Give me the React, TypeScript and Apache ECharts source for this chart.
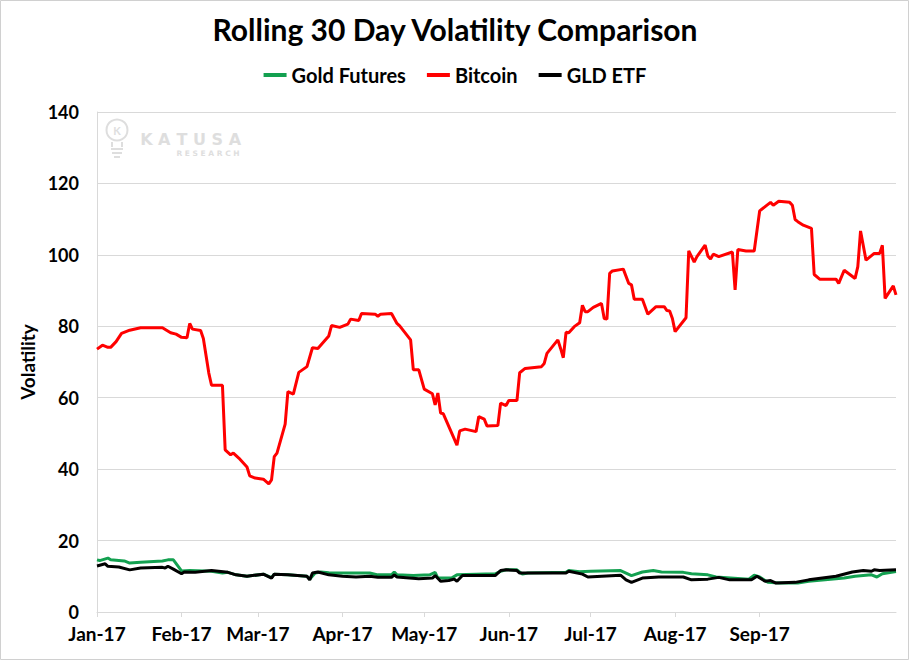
import React, { useEffect, useRef } from "react";
import * as echarts from "echarts";

const title = "Rolling 30 Day Volatility Comparison";
const seriesNames = ["Gold Futures", "Bitcoin", "GLD ETF"];
const monthLabels = ["Jan-17", "Feb-17", "Mar-17", "Apr-17", "May-17", "Jun-17", "Jul-17", "Aug-17", "Sep-17"];
const firstDay = "2017-01-01";
const lastDay = "2017-10-21";
const yTicks = [0, 20, 40, 60, 80, 100, 120, 140];

const bitcoin: [string, number][] = [
  ["2017-01-01", 73.6], ["2017-01-03", 74.7], ["2017-01-05", 74.1], ["2017-01-06", 74.1], ["2017-01-08", 75.7],
  ["2017-01-10", 78.0], ["2017-01-13", 78.9], ["2017-01-17", 79.6], ["2017-01-25", 79.6], ["2017-01-28", 78.2],
  ["2017-01-30", 77.8], ["2017-02-01", 76.9], ["2017-02-03", 76.8], ["2017-02-04", 80.8], ["2017-02-05", 79.2],
  ["2017-02-08", 78.8], ["2017-02-09", 76.6], ["2017-02-11", 66.9], ["2017-02-12", 63.5], ["2017-02-16", 63.5],
  ["2017-02-17", 45.4], ["2017-02-19", 44.0], ["2017-02-20", 44.5], ["2017-02-22", 43.1], ["2017-02-25", 40.6],
  ["2017-02-26", 38.1], ["2017-02-28", 37.5], ["2017-03-03", 37.2], ["2017-03-05", 35.9], ["2017-03-06", 37.0],
  ["2017-03-07", 43.5], ["2017-03-08", 44.5], ["2017-03-11", 52.6], ["2017-03-12", 61.7], ["2017-03-14", 61.0],
  ["2017-03-16", 67.1], ["2017-03-19", 68.7], ["2017-03-21", 74.0], ["2017-03-23", 73.8], ["2017-03-27", 77.3],
  ["2017-03-28", 80.2], ["2017-03-31", 79.7], ["2017-04-03", 80.6], ["2017-04-04", 82.0], ["2017-04-07", 81.6],
  ["2017-04-08", 83.6], ["2017-04-13", 83.4], ["2017-04-14", 82.8], ["2017-04-15", 83.4], ["2017-04-19", 83.6],
  ["2017-04-21", 80.8], ["2017-04-22", 80.1], ["2017-04-26", 76.2], ["2017-04-27", 67.8], ["2017-04-29", 67.8],
  ["2017-05-01", 62.4], ["2017-05-04", 61.1], ["2017-05-05", 58.0], ["2017-05-06", 61.3], ["2017-05-07", 55.7],
  ["2017-05-08", 55.5], ["2017-05-13", 46.7], ["2017-05-14", 50.7], ["2017-05-16", 51.2], ["2017-05-20", 50.5],
  ["2017-05-21", 54.7], ["2017-05-23", 54.0], ["2017-05-24", 52.1], ["2017-05-28", 52.2], ["2017-05-29", 58.5],
  ["2017-05-31", 57.8], ["2017-06-01", 59.2], ["2017-06-04", 59.2], ["2017-06-05", 67.0], ["2017-06-07", 68.2],
  ["2017-06-13", 68.7], ["2017-06-14", 69.6], ["2017-06-15", 72.4], ["2017-06-19", 76.2], ["2017-06-20", 73.8],
  ["2017-06-21", 71.2], ["2017-06-22", 78.3], ["2017-06-23", 78.2], ["2017-06-25", 79.9], ["2017-06-27", 81.0],
  ["2017-06-28", 85.9], ["2017-06-29", 84.1], ["2017-06-30", 84.1], ["2017-07-02", 85.3], ["2017-07-05", 86.4],
  ["2017-07-06", 82.2], ["2017-07-07", 82.0], ["2017-07-08", 94.8], ["2017-07-09", 95.5], ["2017-07-13", 96.0],
  ["2017-07-15", 92.0], ["2017-07-16", 91.6], ["2017-07-17", 87.6], ["2017-07-20", 87.6], ["2017-07-22", 83.4],
  ["2017-07-25", 85.5], ["2017-07-28", 85.5], ["2017-07-29", 84.4], ["2017-07-30", 84.3], ["2017-07-31", 82.2],
  ["2017-08-01", 78.5], ["2017-08-05", 82.4], ["2017-08-06", 101.1], ["2017-08-08", 98.0], ["2017-08-09", 99.5],
  ["2017-08-12", 102.7], ["2017-08-13", 99.7], ["2017-08-14", 98.8], ["2017-08-15", 100.2], ["2017-08-17", 99.5],
  ["2017-08-22", 100.8], ["2017-08-23", 90.2], ["2017-08-24", 101.5], ["2017-08-27", 101.1], ["2017-08-30", 101.1],
  ["2017-09-01", 112.3], ["2017-09-03", 113.5], ["2017-09-05", 114.7], ["2017-09-06", 113.9], ["2017-09-08", 115.0],
  ["2017-09-12", 114.7], ["2017-09-13", 113.9], ["2017-09-14", 109.9], ["2017-09-15", 109.3], ["2017-09-17", 108.3],
  ["2017-09-20", 107.4], ["2017-09-21", 94.5], ["2017-09-23", 93.2], ["2017-09-29", 93.2], ["2017-09-30", 92.0],
  ["2017-10-02", 95.7], ["2017-10-06", 93.4], ["2017-10-07", 96.7], ["2017-10-08", 106.7], ["2017-10-10", 98.5],
  ["2017-10-13", 100.4], ["2017-10-15", 100.4], ["2017-10-16", 102.7], ["2017-10-17", 87.8], ["2017-10-20", 91.3],
  ["2017-10-21", 88.8],
];

const goldFutures: [string, number][] = [
  ["2017-01-01", 14.6], ["2017-01-02", 14.4], ["2017-01-05", 15.1], ["2017-01-06", 14.6], ["2017-01-11", 14.3],
  ["2017-01-13", 13.7], ["2017-01-17", 13.9], ["2017-01-25", 14.3], ["2017-01-27", 14.6], ["2017-01-29", 14.6],
  ["2017-02-01", 11.5], ["2017-02-04", 11.6], ["2017-02-12", 11.4], ["2017-02-16", 10.9], ["2017-02-18", 11.1],
  ["2017-02-21", 10.4], ["2017-02-25", 10.0], ["2017-03-03", 10.6], ["2017-03-06", 9.6], ["2017-03-07", 10.6],
  ["2017-03-12", 10.4], ["2017-03-19", 10.0], ["2017-03-20", 9.2], ["2017-03-22", 10.9], ["2017-03-24", 11.2],
  ["2017-03-27", 11.0], ["2017-04-01", 10.9], ["2017-04-06", 10.9], ["2017-04-11", 10.9], ["2017-04-14", 10.4],
  ["2017-04-19", 10.4], ["2017-04-20", 11.2], ["2017-04-21", 10.4], ["2017-04-27", 10.2], ["2017-05-03", 10.4],
  ["2017-05-05", 11.1], ["2017-05-06", 9.5], ["2017-05-11", 9.5], ["2017-05-13", 10.4], ["2017-05-27", 10.7],
  ["2017-05-29", 11.4], ["2017-05-31", 11.8], ["2017-06-04", 11.8], ["2017-06-06", 10.6], ["2017-06-08", 10.9],
  ["2017-06-22", 11.1], ["2017-06-23", 11.6], ["2017-06-27", 11.3], ["2017-07-01", 11.4], ["2017-07-12", 11.6],
  ["2017-07-14", 10.9], ["2017-07-16", 10.2], ["2017-07-20", 11.2], ["2017-07-24", 11.6], ["2017-07-27", 11.2],
  ["2017-08-04", 11.1], ["2017-08-07", 10.7], ["2017-08-13", 10.4], ["2017-08-16", 9.8], ["2017-08-28", 9.2],
  ["2017-08-30", 10.3], ["2017-09-01", 9.8], ["2017-09-04", 8.3], ["2017-09-08", 8.1], ["2017-09-15", 8.1],
  ["2017-09-19", 8.6], ["2017-09-25", 9.0], ["2017-10-02", 9.5], ["2017-10-06", 10.0], ["2017-10-12", 10.4],
  ["2017-10-14", 9.8], ["2017-10-16", 10.7], ["2017-10-21", 11.3],
];

const gldEtf: [string, number][] = [
  ["2017-01-01", 12.9], ["2017-01-04", 13.5], ["2017-01-05", 12.8], ["2017-01-09", 12.6], ["2017-01-13", 11.8],
  ["2017-01-17", 12.3], ["2017-01-25", 12.5], ["2017-01-26", 12.3], ["2017-01-27", 12.8], ["2017-01-29", 12.0],
  ["2017-02-01", 10.7], ["2017-02-02", 11.2], ["2017-02-06", 11.1], ["2017-02-12", 11.6], ["2017-02-18", 11.1],
  ["2017-02-21", 10.4], ["2017-02-25", 10.0], ["2017-03-03", 10.6], ["2017-03-06", 9.5], ["2017-03-07", 10.6],
  ["2017-03-12", 10.4], ["2017-03-19", 10.0], ["2017-03-20", 9.0], ["2017-03-21", 10.9], ["2017-03-23", 11.2],
  ["2017-03-27", 10.4], ["2017-04-01", 10.0], ["2017-04-06", 9.8], ["2017-04-11", 10.0], ["2017-04-14", 9.7],
  ["2017-04-19", 9.7], ["2017-04-20", 10.4], ["2017-04-21", 9.8], ["2017-04-29", 9.3], ["2017-05-04", 9.5],
  ["2017-05-05", 10.2], ["2017-05-07", 8.6], ["2017-05-10", 8.8], ["2017-05-12", 9.2], ["2017-05-13", 8.6],
  ["2017-05-15", 10.2], ["2017-05-27", 10.2], ["2017-05-29", 11.6], ["2017-05-31", 11.8], ["2017-06-04", 11.6],
  ["2017-06-05", 10.9], ["2017-06-22", 10.9], ["2017-06-23", 11.4], ["2017-06-28", 10.6], ["2017-06-30", 9.8],
  ["2017-07-12", 10.3], ["2017-07-14", 9.0], ["2017-07-16", 8.3], ["2017-07-20", 9.5], ["2017-07-26", 9.8],
  ["2017-08-04", 9.8], ["2017-08-07", 9.0], ["2017-08-13", 9.2], ["2017-08-17", 9.7], ["2017-08-21", 9.0],
  ["2017-08-29", 9.0], ["2017-08-31", 10.0], ["2017-09-03", 8.6], ["2017-09-05", 8.8], ["2017-09-07", 8.1],
  ["2017-09-14", 8.3], ["2017-09-19", 9.0], ["2017-09-29", 10.0], ["2017-10-05", 11.2], ["2017-10-09", 11.6],
  ["2017-10-12", 11.4], ["2017-10-13", 11.8], ["2017-10-15", 11.6], ["2017-10-21", 11.8],
];

const FONT = "Lato, 'Liberation Sans', sans-serif";
const GRID_COLOR = "#d9d9d9";
const COLORS = ["#13a050", "#ff0000", "#000000"];

function buildDays(): string[] {
  const out: string[] = [];
  const start = Date.parse(firstDay + "T00:00:00Z");
  const end = Date.parse(lastDay + "T00:00:00Z");
  for (let t = start; t <= end; t += 86400000) {
    out.push(new Date(t).toISOString().slice(0, 10));
  }
  return out;
}

export default function App() {
  const ref = useRef<HTMLDivElement>(null);

  useEffect(() => {
    if (!ref.current) return;
    const chart = echarts.init(ref.current, undefined, { renderer: "svg" });
    const days = buildDays();
    const idx = new Map(days.map((d, i) => [d, i]));
    const toData = (arr: [string, number][]) => arr.map(([d, v]) => [idx.get(d) as number, v]);
    const isLabelDay = (value: string) => {
      const m = parseInt(value.slice(5, 7), 10);
      return value.slice(8, 10) === "01" && m <= monthLabels.length;
    };
    const wm = "#dedede";
    const katusa = ["K", "A", "T", "U", "S", "A"];

    chart.setOption({
      animation: false,
      backgroundColor: "#ffffff",
      title: {
        text: title,
        left: "center",
        top: 9,
        textStyle: { fontFamily: FONT, fontSize: 30, fontWeight: "bold", color: "#000" },
      },
      legend: {
        data: seriesNames,
        top: 60,
        left: "center",
        icon: "rect",
        itemWidth: 23,
        itemHeight: 4,
        itemGap: 21,
        textStyle: { fontFamily: FONT, fontSize: 20, fontWeight: "bold", color: "#000" },
      },
      grid: { left: 97, right: 14, top: 112, bottom: 49, containLabel: false },
      xAxis: {
        type: "category",
        data: days,
        boundaryGap: false,
        axisLine: { show: true, lineStyle: { color: GRID_COLOR, width: 1 } },
        axisTick: {
          show: true,
          length: 5,
          interval: (_i: number, v: string) => isLabelDay(v),
          lineStyle: { color: GRID_COLOR },
        },
        axisLabel: {
          interval: (_i: number, v: string) => isLabelDay(v),
          formatter: (v: string) => monthLabels[parseInt(v.slice(5, 7), 10) - 1] || "",
          fontFamily: FONT,
          fontSize: 19,
          fontWeight: "bold",
          color: "#000",
          margin: 12,
        },
        splitLine: { show: false },
      },
      yAxis: {
        type: "value",
        min: yTicks[0],
        max: yTicks[yTicks.length - 1],
        interval: yTicks[1] - yTicks[0],
        name: "Volatility",
        nameLocation: "middle",
        nameGap: 50,
        nameRotate: 90,
        nameTextStyle: { fontFamily: FONT, fontSize: 19, fontWeight: "bold", color: "#000" },
        axisLine: { show: true, lineStyle: { color: GRID_COLOR } },
        axisTick: { show: false },
        axisLabel: { fontFamily: FONT, fontSize: 18, fontWeight: "bold", color: "#000", margin: 18 },
        splitLine: { show: true, lineStyle: { color: GRID_COLOR, width: 1 } },
      },
      graphic: [
        {
          type: "rect",
          silent: true,
          shape: { x: 0.5, y: 0.5, width: 908, height: 659 },
          style: { fill: "none", stroke: "#d0d0d0", lineWidth: 1 },
        },
        {
          type: "group",
          silent: true,
          children: [
            { type: "circle", shape: { cx: 117, cy: 130, r: 10.5 }, style: { fill: "none", stroke: wm, lineWidth: 2 } },
            { type: "line", shape: { x1: 112, y1: 142, x2: 112, y2: 147 }, style: { stroke: wm, lineWidth: 2 } },
            { type: "line", shape: { x1: 122, y1: 142, x2: 122, y2: 147 }, style: { stroke: wm, lineWidth: 2 } },
            { type: "line", shape: { x1: 111, y1: 149, x2: 123, y2: 149 }, style: { stroke: wm, lineWidth: 2 } },
            { type: "line", shape: { x1: 112, y1: 153, x2: 122, y2: 153 }, style: { stroke: wm, lineWidth: 2 } },
            { type: "line", shape: { x1: 114, y1: 157, x2: 120, y2: 157 }, style: { stroke: wm, lineWidth: 2 } },
            {
              type: "text",
              style: { x: 117, y: 130, text: "K", fill: wm, font: "bold 11px Lato, sans-serif", align: "center", verticalAlign: "middle" },
            },
            ...katusa.map((ch, i) => ({
              type: "text",
              style: {
                x: 146.5 + i * 17.7,
                y: 139,
                text: ch,
                fill: wm,
                font: "bold 16px 'DejaVu Sans', sans-serif",
                align: "center",
                verticalAlign: "middle",
              },
            })),
            {
              type: "text",
              style: {
                x: 208,
                y: 153,
                text: "R E S E A R C H",
                fill: wm,
                font: "bold 7.5px 'DejaVu Sans', sans-serif",
                align: "center",
                verticalAlign: "middle",
              },
            },
          ],
        },
      ],
      series: [
        {
          name: seriesNames[0],
          type: "line",
          data: toData(goldFutures),
          showSymbol: false,
          color: COLORS[0],
          lineStyle: { width: 3, color: COLORS[0] },
          z: 2,
        },
        {
          name: seriesNames[1],
          type: "line",
          data: toData(bitcoin),
          showSymbol: false,
          color: COLORS[1],
          lineStyle: { width: 3, color: COLORS[1] },
          z: 3,
        },
        {
          name: seriesNames[2],
          type: "line",
          data: toData(gldEtf),
          showSymbol: false,
          color: COLORS[2],
          lineStyle: { width: 3, color: COLORS[2] },
          z: 4,
        },
      ],
    });

    return () => chart.dispose();
  }, []);

  return <div ref={ref} style={{ width: 910, height: 661, position: "absolute", left: 0, top: 0 }} />;
}
